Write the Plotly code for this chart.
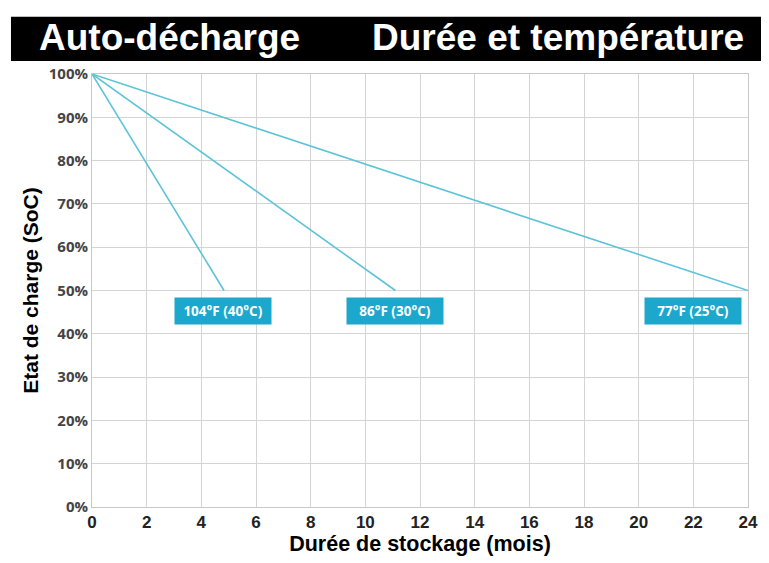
import plotly.graph_objects as go

# storage time (months) and state of charge (%) for each temperature
months_40c = [0, 4.83]
soc_40c = [100, 50]
months_30c = [0, 11.1]
soc_30c = [100, 50]
months_25c = [0, 24]
soc_25c = [100, 50]

labels = ["104°F (40°C)", "86°F (30°C)", "77°F (25°C)"]
label_x = [4.8, 11.1, 22.0]
label_y = [45.3, 45.3, 45.3]

x_ticks = list(range(0, 25, 2))
y_ticks = list(range(0, 101, 10))
y_ticktext = [f"{v}%" for v in y_ticks]

line_color = "#5cc3d9"
box_color = "#1ca8cc"

fig = go.Figure()
for xs, ys in [(months_40c, soc_40c), (months_30c, soc_30c), (months_25c, soc_25c)]:
    fig.add_trace(go.Scatter(x=xs, y=ys, mode="lines",
                             line=dict(color=line_color, width=1.6),
                             showlegend=False, hoverinfo="skip"))

for txt, lx, ly in zip(labels, label_x, label_y):
    fig.add_annotation(x=lx, y=ly, text=f"<b>{txt}</b>", showarrow=False,
                       bgcolor=box_color, width=88, height=18, borderpad=4,
                       font=dict(family="Open Sans", size=13.5, color="white"))

# black title banner
fig.add_shape(type="rect", xref="paper", yref="paper",
              x0=-0.1235, x1=1.04, y0=1.030, y1=1.132,
              fillcolor="black", line=dict(width=0), layer="above")
fig.add_annotation(xref="paper", yref="paper", x=-0.084, y=1.084,
                   xanchor="left", yanchor="middle", showarrow=False,
                   text="<b>Auto-décharge</b>",
                   font=dict(family="Liberation Sans", size=37, color="white"))
fig.add_annotation(xref="paper", yref="paper", x=0.4238, y=1.084,
                   xanchor="left", yanchor="middle", showarrow=False,
                   text="<b>Durée et température</b>",
                   font=dict(family="Liberation Sans", size=37, color="white"))

fig.update_xaxes(range=[0, 24], tickvals=x_ticks, showgrid=True,
                 gridcolor="#d4d4d4", gridwidth=1, zeroline=False,
                 showline=True, linecolor="#c8c8c8", mirror=True,
                 tickfont=dict(family="Liberation Sans Narrow, Liberation Sans", size=17,
                               color="#222", weight="bold"),
                 title=dict(text="<b>Durée de stockage (mois)</b>", standoff=4,
                            font=dict(family="Liberation Sans", size=21.5, color="black")))
fig.update_yaxes(range=[0, 100], tickvals=y_ticks, ticktext=y_ticktext,
                 showgrid=True, gridcolor="#d4d4d4", gridwidth=1, zeroline=False,
                 showline=True, linecolor="#c8c8c8", mirror=True,
                 tickfont=dict(family="Open Sans", size=15, color="#444", weight="bold"),
                 title=dict(text="<b>Etat de charge (SoC)</b>", standoff=4,
                            font=dict(family="Liberation Sans", size=21, color="black")))

# the page adds an 8px body margin, so the figure is sized to fit the window
fig.update_layout(width=761, height=555,
                  margin=dict(l=84, r=21, t=66, b=56),
                  paper_bgcolor="white", plot_bgcolor="white")

fig.write_html("out.html")
